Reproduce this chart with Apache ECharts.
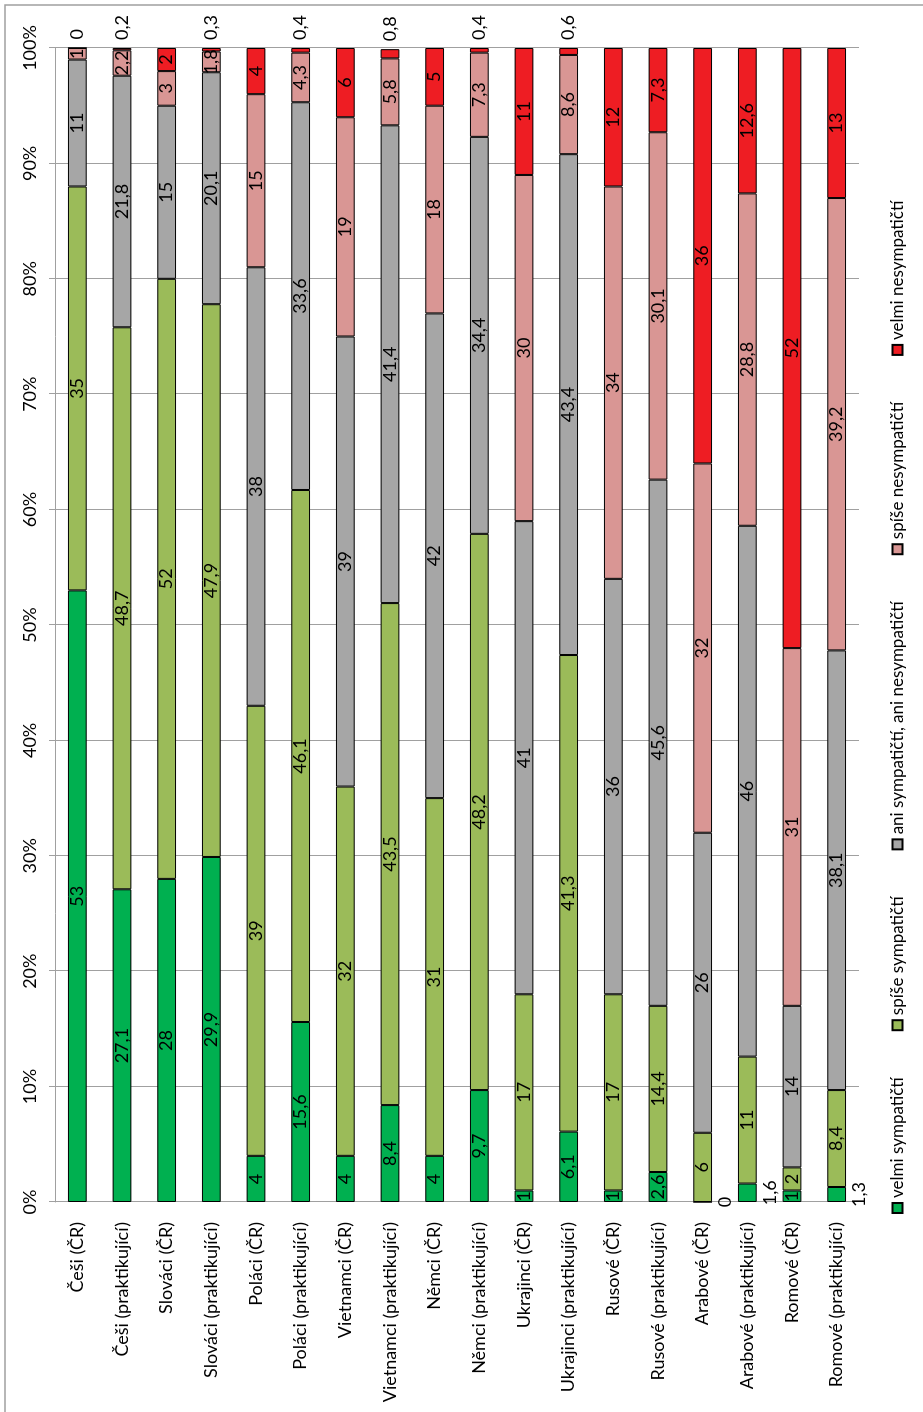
<!DOCTYPE html>
<html>
<head>
<meta charset="utf-8">
<script src="https://cdn.jsdelivr.net/npm/echarts@6/dist/echarts.min.js"></script>
<style>
html,body{margin:0;padding:0;background:#fff;width:923px;height:1412px;overflow:hidden;}
#chart{position:absolute;left:0;top:1412px;width:1412px;height:923px;transform-origin:0 0;transform:rotate(-90deg);}
</style>
</head>
<body>
<div id="chart"></div>
<script>
const categories = ["Češi (ČR)","Češi (praktikující)","Slováci (ČR)","Slováci (praktikující)","Poláci (ČR)","Poláci (praktikující)","Vietnamci (ČR)","Vietnamci (praktikující)","Němci (ČR)","Němci (praktikující)","Ukrajinci (ČR)","Ukrajinci (praktikující)","Rusové (ČR)","Rusové (praktikující)","Arabové (ČR)","Arabové (praktikující)","Romové (ČR)","Romové (praktikující)"];
const seriesNames = ["velmi sympatičtí","spíše sympatičtí","ani sympatičtí, ani nesympatičtí","spíše nesympatičtí","velmi nesympatičtí"];
const velmiSympatictí = [53,27.1,28,29.9,4,15.6,4,8.4,4,9.7,1,6.1,1,2.6,0,1.6,1,1.3];
const spiseSympatictí = [35,48.7,52,47.9,39,46.1,32,43.5,31,48.2,17,41.3,17,14.4,6,11,2,8.4];
const aniAni = [11,21.8,15,20.1,38,33.6,39,41.4,42,34.4,41,43.4,36,45.6,26,46,14,38.1];
const spiseNesympatictí = [1,2.2,3,1.8,15,4.3,19,5.8,18,7.3,30,8.6,34,30.1,32,28.8,31,39.2];
const velmiNesympatictí = [0,0.2,2,0.3,4,0.4,6,0.8,5,0.4,11,0.6,12,7.3,36,12.6,52,13];
const valueTicks = [0,10,20,30,40,50,60,70,80,90,100];
// indices of categories whose small-value labels sit outside the bar
const outsideStart = [14,15,17];
const outsideEnd = [0,1,3,5,7,9,11];

const colors = ["#00B050","#9BBB59","#A6A6A6","#D99694","#EE1D23"];
const allValues = [velmiSympatictí,spiseSympatictí,aniAni,spiseNesympatictí,velmiNesympatictí];
const FONT = "Lato";
const fmt = p => String(p.value).replace('.', ',');

const series = allValues.map((vals, si) => ({
  name: seriesNames[si],
  type: 'bar',
  stack: 'total',
  barWidth: '42%',
  itemStyle: {color: colors[si], borderColor: '#000', borderWidth: 1},
  label: {show: true, position: 'inside', color: '#000', fontFamily: FONT, fontSize: 18, formatter: fmt, textBorderWidth: 0},
  data: vals.map((v, i) => {
    const d = {value: v};
    if (si === 0 && outsideStart.includes(i)) d.label = {position: 'bottom', distance: 4};
    if (si === 4 && outsideEnd.includes(i)) d.label = {position: 'right', distance: 8};
    return d;
  })
}));

const chart = echarts.init(document.getElementById('chart'));
chart.setOption({
  animation: false,
  backgroundColor: '#fff',
  color: colors,
  textStyle: {fontFamily: FONT},
  grid: {left: 210, right: 48, top: 55, bottom: 64, containLabel: false},
  legend: {
    left: 193, top: 884, itemWidth: 10, itemHeight: 10, itemGap: 46, icon: 'rect',
    textStyle: {fontFamily: FONT, fontSize: 17, color: '#000'},
    data: seriesNames
  },
  xAxis: {
    type: 'value', position: 'top', min: valueTicks[0], max: valueTicks[valueTicks.length-1], interval: 10,
    axisLine: {show: true, lineStyle: {color: '#A0A0A0'}},
    axisTick: {show: true, length: 6, lineStyle: {color: '#A0A0A0'}},
    axisLabel: {formatter: '{value}%', color: '#000', fontFamily: FONT, fontSize: 18, margin: 16},
    splitLine: {show: true, lineStyle: {color: '#A0A0A0', width: 1}}
  },
  yAxis: {
    type: 'category', data: categories, inverse: true,
    axisLine: {show: true, lineStyle: {color: '#A0A0A0'}},
    axisTick: {show: false},
    axisLabel: {color: '#000', fontFamily: FONT, fontSize: 18, margin: 20}
  },
  graphic: [{type: 'rect', shape: {x: -2, y: 5, width: 1409, height: 930}, style: {fill: 'none', stroke: '#A0A0A0', lineWidth: 1.5}, silent: true}],
  series: series
});
</script>
</body>
</html>
